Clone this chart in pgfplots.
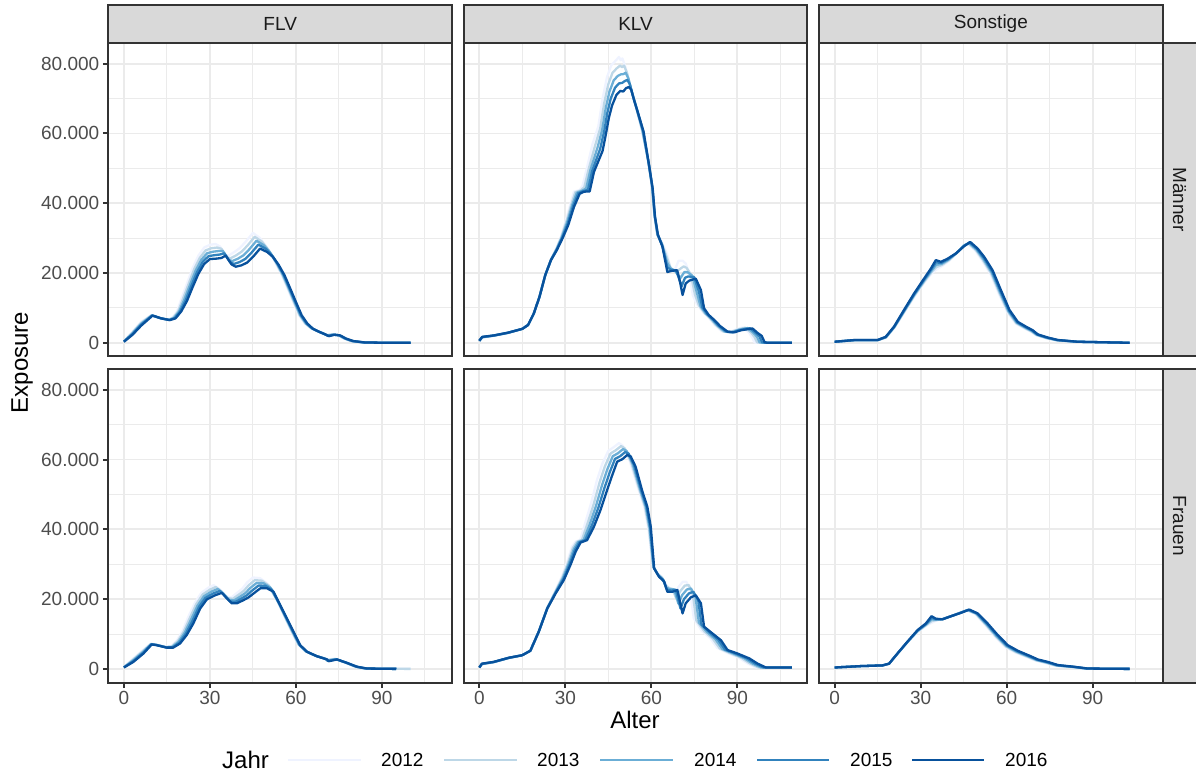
\documentclass[border=0pt]{standalone}
\usepackage{fontspec}
\setmainfont{Liberation Sans}
\usepackage{pgfplots}
\pgfplotsset{compat=1.18}
\definecolor{gg10}{HTML}{1A1A1A}
\definecolor{gg20}{HTML}{333333}
\definecolor{gg30}{HTML}{4D4D4D}
\definecolor{gg92}{HTML}{EBEBEB}
\definecolor{strip}{HTML}{D9D9D9}
\definecolor{c2012}{HTML}{EFF3FF}
\definecolor{c2013}{HTML}{BDD7E7}
\definecolor{c2014}{HTML}{6BAED6}
\definecolor{c2015}{HTML}{3182BD}
\definecolor{c2016}{HTML}{08519C}
\pgfplotsset{
  panel/.style={
    scale only axis, width=343.7pt, height=313.7pt,
    xmin=-5.45, xmax=114.45, ymin=-3.9, ymax=86,
    axis line style={draw=gg20, line width=2pt},
    xtick={0,30,60,90}, minor xtick={15,45,75,105},
    ytick={0,20,40,60,80}, minor ytick={10,30,50,70},
    xmajorgrids=true, ymajorgrids=true, xminorgrids=true, yminorgrids=true,
    major grid style={draw=gg92, line width=1.8pt},
    minor grid style={draw=gg92, line width=0.9pt},
    tick align=outside, tick pos=left,
    major tick length=5.5pt, minor tick length=0pt,
    tick style={draw=gg20, line width=2pt},
    tick label style={font=\fontsize{19}{22}\selectfont, text=gg30},
    xticklabels={0,30,60,90},
    yticklabels={0,20.000,40.000,60.000,80.000},
    no markers,
  },
  notx/.style={xticklabels={}, xtick style={draw=none}},
  noty/.style={yticklabels={}, ytick style={draw=none}},
  y12/.style={draw=c2012, line width=2.3pt, line join=round},
  y13/.style={draw=c2013, line width=2.3pt, line join=round},
  y14/.style={draw=c2014, line width=2.3pt, line join=round},
  y15/.style={draw=c2015, line width=2.3pt, line join=round},
  y16/.style={draw=c2016, line width=2.3pt, line join=round},
}
\begin{document}
\begin{tikzpicture}
\path[use as bounding box] (0,0) rectangle (1196pt,-773pt);

% ---------- FLV Maenner ----------
\begin{axis}[panel, notx, at={(108.3pt,-356.4pt)}, anchor=south west]
\addplot[y12] coordinates {(0,0.4)(3,3.2)(6,6.0)(9.5,7.9)(12.5,7.1)(15.5,6.6)(17,7.3)(18.5,9.0)(20,12.5)(22,17.0)(24,21.5)(26,25.0)(28,27.3)(30,28.1)(32,28.3)(33.5,27.6)(35.5,25.2)(36.5,25.0)(38.5,26.0)(40.5,27.2)(42.5,29.0)(45,31.5)(47.5,30.0)(50,27.2)(52.5,23.5)(55,19.5)(57,15.7)(59,11.8)(61,8.0)(63,5.6)(65,4.3)(67,3.5)(69,2.8)(70.5,2.3)(72.5,2.4)(74.5,2.2)(76.5,1.3)(79,0.5)(83,0.1)(90,0.02)(100,0)};
\addplot[y13] coordinates {(0,0.38)(3,2.98)(6,5.73)(9.63,7.88)(12.63,7.08)(15.63,6.58)(17.25,7.23)(18.88,9.0)(20.5,12.38)(22.5,16.75)(24.5,21.08)(26.5,24.4)(28.5,26.48)(30.5,27.1)(32.5,27.3)(34,26.95)(36,24.53)(37.13,24.2)(39.13,25.05)(41.13,26.15)(43.13,27.9)(45.63,30.38)(48.13,29)(50.5,26.55)(52.88,23.2)(55.25,19.48)(57.25,15.68)(59.25,11.78)(61.25,7.98)(63.25,5.58)(65.25,4.23)(67.25,3.43)(69.25,2.73)(70.75,2.2)(72.75,2.38)(74.75,2.18)(76.75,1.28)(79.25,0.5)(83.25,0.1)(90,0.02)(100,0)};
\addplot[y14] coordinates {(0,0.35)(3,2.75)(6,5.45)(9.75,7.85)(12.75,7.05)(15.75,6.55)(17.5,7.15)(19.25,9.0)(21,12.25)(23,16.5)(25,20.65)(27,23.8)(29,25.65)(31,26.1)(33,26.3)(34.5,26.3)(36.5,23.85)(37.75,23.4)(39.75,24.1)(41.75,25.1)(43.75,26.8)(46.25,29.25)(48.75,28)(51,25.9)(53.25,22.9)(55.5,19.45)(57.5,15.65)(59.5,11.75)(61.5,7.95)(63.5,5.55)(65.5,4.15)(67.5,3.35)(69.5,2.65)(71,2.1)(73,2.35)(75,2.15)(77,1.25)(79.5,0.5)(83.5,0.1)(90,0.02)(100,0)};
\addplot[y15] coordinates {(0,0.33)(3,2.53)(6,5.18)(9.88,7.83)(12.88,7.03)(15.88,6.53)(17.75,7.08)(19.63,9.0)(21.5,12.13)(23.5,16.25)(25.5,20.23)(27.5,23.2)(29.5,24.83)(31.5,25.1)(33.5,25.3)(35,25.65)(37,23.18)(38.38,22.6)(40.38,23.15)(42.38,24.05)(44.38,25.7)(46.88,28.13)(49.38,27)(51.5,25.25)(53.63,22.6)(55.75,19.43)(57.75,15.63)(59.75,11.73)(61.75,7.93)(63.75,5.53)(65.75,4.08)(67.75,3.28)(69.75,2.58)(71.25,2.0)(73.25,2.33)(75.25,2.13)(77.25,1.23)(79.75,0.5)(83.75,0.1)(90,0.02)(100,0)};
\addplot[y16] coordinates {(0,0.3)(3,2.3)(6,4.9)(10,7.8)(13,7.0)(16,6.5)(18,7.0)(20,9.0)(22,12.0)(24,16.0)(26,19.8)(28,22.6)(30,24.0)(32,24.1)(34,24.3)(35.5,25.0)(37.5,22.5)(39,21.8)(41,22.2)(43,23.0)(45,24.6)(47.5,27.0)(50,26.0)(52,24.6)(54,22.3)(56,19.4)(58,15.6)(60,11.7)(62,7.9)(64,5.5)(66,4.0)(68,3.2)(70,2.5)(71.5,1.9)(73.5,2.3)(75.5,2.1)(77.5,1.2)(80,0.5)(84,0.1)(90,0.02)(100,0)};
\end{axis}

% ---------- KLV Maenner ----------
\begin{axis}[panel, notx, noty, at={(463.7pt,-356.4pt)}, anchor=south west]
\addplot[y12] coordinates {(0,0.5)(1,1.5)(5,2.0)(10,2.8)(15,4.0)(17,5.1)(19,8.4)(21,13.2)(23,19.4)(25,23.9)(27,27.3)(28.5,30.5)(30.5,36.0)(32,40.5)(33,43.3)(35,43.8)(36,45.0)(37.5,50.0)(39.5,57.0)(41.5,62.0)(43,70.0)(44.5,76.0)(46,79.5)(47.5,80.8)(48.7,81.9)(49.3,81.0)(49.9,81.5)(51,79.0)(52.5,74.0)(54.5,68.0)(56.5,61.5)(58.5,54.0)(60,46.0)(61,37.0)(62,31.0)(63.5,29.0)(65.5,25.5)(66.5,22.0)(67.5,20.5)(68.5,21.5)(69.5,23.5)(71,23.5)(72,22.7)(73.2,20.0)(74.5,13.5)(76,11.0)(78,8.8)(80,7.2)(82,5.2)(84.5,3.3)(87,3.0)(89.5,3.8)(91.8,4.4)(94,3.0)(95.2,1.5)(96,0.1)(97,0)(109,0)};
\addplot[y13] coordinates {(0,0.53)(1,1.55)(5,2.03)(10,2.83)(15,4.0)(17,5.1)(19,8.4)(21,13.2)(23,19.4)(25,23.85)(27,27.1)(28.63,30.35)(30.63,35.43)(32.25,40.1)(33.5,43.15)(35.38,43.68)(36.63,44.6)(38.13,49.75)(40.38,56.5)(42.18,61.5)(43.55,68.63)(44.95,74)(46.45,77.38)(47.93,78.65)(49.08,79.43)(49.78,79)(50.48,79.45)(51.5,77.38)(52.88,72.88)(54.75,67.38)(56.7,61.25)(58.7,53.13)(60.13,45.5)(61.08,36.75)(62.08,31)(63.6,28.63)(65.53,24.2)(66.63,21.65)(67.88,20.58)(68.88,20.5)(69.85,21.05)(71.25,21.88)(72.3,21.48)(73.78,19.6)(75.2,13.9)(76.6,10.73)(78.5,8.6)(80.5,7.03)(82.5,5.1)(85.03,3.28)(87.5,3)(89.95,3.75)(92.68,4.33)(94.78,2.95)(96.03,1.63)(96.88,0.13)(97.88,0)(109,0)};
\addplot[y14] coordinates {(0,0.55)(1,1.6)(5,2.05)(10,2.85)(15,4.0)(17,5.1)(19,8.4)(21,13.2)(23,19.4)(25,23.8)(27,26.9)(28.75,30.2)(30.75,34.85)(32.5,39.7)(34,43.0)(35.75,43.55)(37.25,44.2)(38.75,49.5)(41.25,56.0)(42.85,61.0)(44.1,67.25)(45.4,72)(46.9,75.25)(48.35,76.5)(49.45,76.95)(50.25,77)(51.05,77.4)(52,75.75)(53.25,71.75)(55,66.75)(56.9,61.0)(58.9,52.25)(60.25,45)(61.15,36.5)(62.15,31)(63.7,28.25)(65.55,22.9)(66.75,21.3)(68.25,20.65)(69.25,19.5)(70.2,18.6)(71.5,20.25)(72.6,20.25)(74.35,19.2)(75.9,14.3)(77.2,10.45)(79,8.4)(81,6.85)(83,5.0)(85.55,3.25)(88,3)(90.4,3.7)(93.55,4.25)(95.55,2.9)(96.85,1.75)(97.75,0.15)(98.75,0)(109,0)};
\addplot[y15] coordinates {(0,0.58)(1,1.65)(5,2.08)(10,2.88)(15,4.0)(17,5.1)(19,8.4)(21,13.2)(23,19.4)(25,23.75)(27,26.7)(28.88,30.05)(30.88,34.28)(32.75,39.3)(34.5,42.85)(36.13,43.43)(37.88,43.8)(39.38,49.25)(42.13,55.5)(43.53,60.5)(44.65,65.88)(45.85,70)(47.35,73.13)(48.78,74.35)(49.83,74.48)(50.73,75)(51.63,75.35)(52.5,74.13)(53.63,70.63)(55.25,66.13)(57.1,60.75)(59.1,51.38)(60.38,44.5)(61.23,36.25)(62.23,31)(63.8,27.88)(65.58,21.6)(66.88,20.95)(68.63,20.73)(69.63,18.5)(70.55,16.15)(71.75,18.63)(72.9,19.03)(74.93,18.8)(76.6,14.7)(77.8,10.18)(79.5,8.2)(81.5,6.68)(83.5,4.9)(86.08,3.23)(88.5,3)(90.85,3.65)(94.43,4.18)(96.33,2.85)(97.68,1.88)(98.63,0.18)(99.63,0)(109,0)};
\addplot[y16] coordinates {(0,0.6)(1,1.7)(5,2.1)(10,2.9)(15,4.0)(17,5.1)(19,8.4)(21,13.2)(23,19.4)(25,23.7)(27,26.5)(29,29.9)(31,33.7)(33,38.9)(35,42.7)(36.5,43.3)(38.5,43.4)(40,49.0)(43,55.0)(44.2,60.0)(45.2,64.5)(46.3,68.0)(47.8,71.0)(49.2,72.2)(50.2,72.0)(51.2,73.0)(52.2,73.3)(53,72.5)(54,69.5)(55.5,65.5)(57.3,60.5)(59.3,50.5)(60.5,44.0)(61.3,36.0)(62.3,31.0)(63.9,27.5)(65.6,20.3)(67,20.6)(69,20.8)(70,17.5)(70.9,13.7)(72,17.0)(73.2,17.8)(75.5,18.4)(77.3,15.1)(78.4,9.9)(80,8.0)(82,6.5)(84,4.8)(86.6,3.2)(89,3.0)(91.3,3.6)(95.3,4.1)(97.1,2.8)(98.5,2.0)(99.5,0.2)(100.5,0)(109,0)};
\end{axis}

% ---------- Sonstige Maenner ----------
\begin{axis}[panel, notx, noty, at={(819pt,-356.4pt)}, anchor=south west]
\addplot[y12] coordinates {(0,0.3)(7,0.7)(15,0.7)(18,1.5)(21,4.5)(24.5,9.0)(28,13.5)(31.5,17.5)(34,20.0)(35.5,21.0)(37.5,22.0)(40,23.5)(43,26.0)(45,28.0)(46.5,28.3)(49,26.5)(51.5,23.5)(54.5,19.5)(57.3,14.0)(60.3,8.7)(63.2,5.5)(66,4.2)(68.4,3.2)(70.2,2.2)(73.7,1.3)(77.2,0.7)(84,0.3)(102.9,0)};
\addplot[y13] coordinates {(0,0.3)(7,0.73)(15,0.73)(17.95,1.55)(20.93,4.53)(24.43,9.1)(27.93,13.65)(31.43,17.73)(33.9,20.33)(35.45,21.68)(37.4,22.3)(39.85,23.65)(42.83,25.9)(45.05,27.93)(46.7,28.45)(49.23,26.63)(51.68,23.78)(54.65,19.83)(57.48,14.28)(60.48,8.88)(63.38,5.63)(66.2,4.3)(68.58,3.3)(70.38,2.25)(73.88,1.35)(77.38,0.73)(84.2,0.3)(102.9,0)};
\addplot[y14] coordinates {(0,0.3)(7,0.75)(15,0.75)(17.9,1.6)(20.85,4.55)(24.35,9.2)(27.85,13.8)(31.35,17.95)(33.8,20.65)(35.4,22.35)(37.3,22.6)(39.7,23.8)(42.65,25.8)(45.1,27.85)(46.9,28.6)(49.45,26.75)(51.85,24.05)(54.8,20.15)(57.65,14.55)(60.65,9.05)(63.55,5.75)(66.4,4.4)(68.75,3.4)(70.55,2.3)(74.05,1.4)(77.55,0.75)(84.4,0.3)(102.9,0)};
\addplot[y15] coordinates {(0,0.3)(7,0.78)(15,0.78)(17.85,1.65)(20.78,4.58)(24.28,9.3)(27.78,13.95)(31.28,18.18)(33.7,20.98)(35.35,23.03)(37.2,22.9)(39.55,23.95)(42.48,25.7)(45.15,27.78)(47.1,28.75)(49.68,26.88)(52.03,24.33)(54.95,20.48)(57.83,14.83)(60.83,9.23)(63.73,5.88)(66.6,4.5)(68.93,3.5)(70.73,2.35)(74.23,1.45)(77.73,0.78)(84.6,0.3)(102.9,0)};
\addplot[y16] coordinates {(0,0.3)(7,0.8)(15,0.8)(17.8,1.7)(20.7,4.6)(24.2,9.4)(27.7,14.1)(31.2,18.4)(33.6,21.3)(35.3,23.7)(37.1,23.2)(39.4,24.1)(42.3,25.6)(45.2,27.7)(47.3,28.9)(49.9,27.0)(52.2,24.6)(55.1,20.8)(58,15.1)(61,9.4)(63.9,6.0)(66.8,4.6)(69.1,3.6)(70.9,2.4)(74.4,1.5)(77.9,0.8)(84.8,0.3)(102.9,0)};
\end{axis}

% ---------- FLV Frauen ----------
\begin{axis}[panel, at={(108.3pt,-682.5pt)}, anchor=south west]
\addplot[y12] coordinates {(0,0.5)(3,2.8)(6.5,5.3)(9.3,7.2)(11,7.0)(14.5,6.3)(16.5,6.5)(18.5,8.2)(20.5,11.0)(22.5,15.0)(24.8,19.0)(27,21.8)(29.5,23.3)(31.3,24.0)(33.5,22.8)(35.7,20.8)(37.5,20.5)(39.5,21.8)(41.3,23.0)(43,24.8)(45,26.2)(47.5,26.0)(50,24.5)(53.5,19.5)(56,15.0)(58.3,11.0)(60.6,7.2)(63,5.2)(66.4,3.9)(69.9,3.0)(70.4,2.6)(73.4,2.9)(76.9,1.9)(80.4,0.7)(84,0.1)(100,0)};
\addplot[y13] coordinates {(0,0.48)(3.08,2.6)(6.58,5.08)(9.4,7.15)(11.1,6.95)(14.6,6.25)(16.68,6.4)(18.78,7.98)(20.85,10.68)(22.93,14.5)(25.25,18.58)(27.48,21.33)(30.08,22.75)(32.03,23.45)(34.1,22.15)(36.18,20.3)(37.98,20.08)(40.05,21.28)(41.85,22.38)(43.55,24.0)(45.65,25.43)(48.1,25.28)(50.55,23.9)(53.75,19.2)(56.23,14.85)(58.53,10.9)(60.83,7.1)(63.23,5.13)(66.65,3.83)(70.15,2.93)(70.65,2.5)(73.65,2.85)(77.15,1.85)(80.65,0.68)(84.2,0.1)(100,0)};
\addplot[y14] coordinates {(0,0.45)(3.15,2.4)(6.65,4.85)(9.5,7.1)(11.2,6.9)(14.7,6.2)(16.85,6.3)(19.05,7.75)(21.2,10.35)(23.35,14.0)(25.7,18.15)(27.95,20.85)(30.65,22.2)(32.75,22.9)(34.7,21.5)(36.65,19.8)(38.45,19.65)(40.6,20.75)(42.4,21.75)(44.1,23.2)(46.3,24.65)(48.7,24.55)(51.1,23.3)(54,18.9)(56.45,14.7)(58.75,10.8)(61.05,7.0)(63.45,5.05)(66.9,3.75)(70.4,2.85)(70.9,2.4)(73.9,2.8)(77.4,1.8)(80.9,0.65)(84.4,0.1)(95,0)};
\addplot[y15] coordinates {(0,0.43)(3.23,2.2)(6.73,4.63)(9.6,7.05)(11.3,6.85)(14.8,6.15)(17.03,6.2)(19.33,7.53)(21.55,10.03)(23.78,13.5)(26.15,17.73)(28.43,20.38)(31.23,21.65)(33.48,22.35)(35.3,20.85)(37.13,19.3)(38.93,19.23)(41.15,20.23)(42.95,21.13)(44.65,22.4)(46.95,23.88)(49.3,23.83)(51.65,22.7)(54.25,18.6)(56.68,14.55)(58.98,10.7)(61.28,6.9)(63.68,4.98)(67.15,3.68)(70.65,2.78)(71.15,2.3)(74.15,2.75)(77.65,1.75)(81.15,0.63)(84.6,0.1)(95,0)};
\addplot[y16] coordinates {(0,0.4)(3.3,2.0)(6.8,4.4)(9.7,7.0)(11.4,6.8)(14.9,6.1)(17.2,6.1)(19.6,7.3)(21.9,9.7)(24.2,13.0)(26.6,17.3)(28.9,19.9)(31.8,21.1)(34.2,21.8)(35.9,20.2)(37.6,18.8)(39.4,18.8)(41.7,19.7)(43.5,20.5)(45.2,21.6)(47.6,23.1)(49.9,23.1)(52.2,22.1)(54.5,18.3)(56.9,14.4)(59.2,10.6)(61.5,6.8)(63.9,4.9)(67.4,3.6)(70.9,2.7)(71.4,2.2)(74.4,2.7)(77.9,1.7)(81.4,0.6)(84.8,0.1)(95,0)};
\end{axis}

% ---------- KLV Frauen ----------
\begin{axis}[panel, noty, at={(463.7pt,-682.5pt)}, anchor=south west]
\addplot[y12] coordinates {(0,0.4)(0.9,1.3)(5,1.9)(10.3,3.1)(14.9,3.9)(17.8,5.2)(20.7,10.6)(23.7,17.5)(26.3,22.0)(28.8,26.5)(30.8,31.0)(32.3,35.0)(33.6,36.5)(35.2,37.0)(37,42.0)(39,47.5)(41,54.0)(43,59.0)(45,62.5)(46.8,63.5)(48.7,64.7)(50,64.0)(52.5,59.5)(55.5,51.5)(57.5,46.5)(59,40.0)(60.5,29.5)(62,27.5)(63.5,26.5)(64.8,24.5)(65.8,23.5)(66.8,23.0)(68,21.5)(69.5,23.5)(71,25.0)(72.2,25.0)(73.5,22.5)(74.8,14.5)(77.5,11.0)(80.5,8.8)(83,6.0)(86.5,4.6)(90.5,3.2)(93.5,1.6)(96.5,0.4)(109,0.4)};
\addplot[y13] coordinates {(0,0.4)(0.9,1.35)(5,1.93)(10.3,3.13)(14.9,3.9)(17.8,5.2)(20.7,10.6)(23.7,17.45)(26.38,21.9)(28.98,26.25)(31.05,30.7)(32.63,34.65)(34.03,36.43)(35.8,36.98)(37.75,41.7)(39.83,47.03)(41.9,53.33)(43.85,58.15)(45.78,61.73)(47.58,62.65)(49.43,63.85)(50.7,63.23)(53,59.13)(55.85,51.33)(57.78,46.5)(59.2,40.2)(60.63,29.33)(62.18,27.23)(63.75,26.13)(65,23.9)(66.2,23.15)(67.38,22.9)(68.73,20.1)(70.13,22.33)(71.7,23.88)(73.03,24.03)(74.45,21.58)(75.7,13.9)(78.48,10.78)(81.45,8.65)(83.9,5.85)(87.4,4.55)(91.43,3.15)(94.4,1.58)(97.38,0.4)(109,0.4)};
\addplot[y14] coordinates {(0,0.4)(0.9,1.4)(5,1.95)(10.3,3.15)(14.9,3.9)(17.8,5.2)(20.7,10.6)(23.7,17.4)(26.45,21.8)(29.15,26.0)(31.3,30.4)(32.95,34.3)(34.45,36.35)(36.4,36.95)(38.5,41.4)(40.65,46.55)(42.8,52.65)(44.7,57.3)(46.55,60.95)(48.35,61.8)(50.15,63.0)(51.4,62.45)(53.5,58.75)(56.2,51.15)(58.05,46.5)(59.4,40.4)(60.75,29.15)(62.35,26.95)(64,25.75)(65.2,23.3)(66.6,22.8)(67.95,22.8)(69.45,18.7)(70.75,21.15)(72.4,22.75)(73.85,23.05)(75.4,20.65)(76.6,13.3)(79.45,10.55)(82.4,8.5)(84.8,5.7)(88.3,4.5)(92.35,3.1)(95.3,1.55)(98.25,0.4)(109,0.4)};
\addplot[y15] coordinates {(0,0.4)(0.9,1.45)(5,1.98)(10.3,3.18)(14.9,3.9)(17.8,5.2)(20.7,10.6)(23.7,17.35)(26.53,21.7)(29.33,25.75)(31.55,30.1)(33.28,33.95)(34.88,36.28)(37,36.93)(39.25,41.1)(41.48,46.08)(43.7,51.98)(45.55,56.45)(47.33,60.18)(49.13,60.95)(50.88,62.15)(52.1,61.68)(54,58.38)(56.55,50.98)(58.33,46.5)(59.6,40.6)(60.88,28.98)(62.53,26.68)(64.25,25.38)(65.4,22.7)(67,22.45)(68.53,22.7)(70.18,17.3)(71.38,19.98)(73.1,21.63)(74.68,22.08)(76.35,19.73)(77.5,12.7)(80.43,10.33)(83.35,8.35)(85.7,5.55)(89.2,4.45)(93.28,3.05)(96.2,1.53)(99.13,0.4)(109,0.4)};
\addplot[y16] coordinates {(0,0.4)(0.9,1.5)(5,2.0)(10.3,3.2)(14.9,3.9)(17.8,5.2)(20.7,10.6)(23.7,17.3)(26.6,21.6)(29.5,25.5)(31.8,29.8)(33.6,33.6)(35.3,36.2)(37.6,36.9)(40,40.8)(42.3,45.6)(44.6,51.3)(46.4,55.6)(48.1,59.4)(49.9,60.1)(51.6,61.3)(52.8,60.9)(54.5,58.0)(56.9,50.8)(58.6,46.5)(59.8,40.8)(61,28.8)(62.7,26.4)(64.5,25.0)(65.6,22.1)(67.4,22.1)(69.1,22.6)(70.9,15.9)(72,18.8)(73.8,20.5)(75.5,21.1)(77.3,18.8)(78.4,12.1)(81.4,10.1)(84.3,8.2)(86.6,5.4)(90.1,4.4)(94.2,3.0)(97.1,1.5)(100,0.4)(109,0.4)};
\end{axis}

% ---------- Sonstige Frauen ----------
\begin{axis}[panel, noty, at={(819pt,-682.5pt)}, anchor=south west]
\addplot[y12] coordinates {(0,0.4)(9.1,0.8)(16.7,1.0)(19,1.5)(21.9,4.3)(25.4,7.6)(28.9,10.6)(31.8,12.3)(33.8,13.2)(35.3,13.8)(37.6,14.3)(40.3,15.0)(43,15.9)(46,16.8)(49,15.8)(52.5,12.6)(56,9.2)(59.5,6.3)(63,4.7)(67.6,3.2)(70,2.4)(73.5,1.7)(77,0.9)(82.8,0.5)(87.4,0.1)(102.9,0)};
\addplot[y13] coordinates {(0,0.4)(9.1,0.8)(16.7,1.0)(19,1.5)(21.9,4.33)(25.4,7.65)(28.9,10.73)(31.8,12.48)(33.8,13.68)(35.3,13.95)(37.6,14.28)(40.38,15.03)(43.13,15.9)(46.25,16.85)(49.23,15.83)(52.73,12.7)(56.23,9.33)(59.73,6.43)(63.23,4.83)(67.83,3.3)(70.23,2.48)(73.73,1.78)(77.23,0.95)(83.03,0.53)(87.63,0.1)(102.9,0)};
\addplot[y14] coordinates {(0,0.4)(9.1,0.8)(16.7,1.0)(19,1.5)(21.9,4.35)(25.4,7.7)(28.9,10.85)(31.8,12.65)(33.8,14.15)(35.3,14.1)(37.6,14.25)(40.45,15.05)(43.25,15.9)(46.5,16.9)(49.45,15.85)(52.95,12.8)(56.45,9.45)(59.95,6.55)(63.45,4.95)(68.05,3.4)(70.45,2.55)(73.95,1.85)(77.45,1.0)(83.25,0.55)(87.85,0.1)(102.9,0)};
\addplot[y15] coordinates {(0,0.4)(9.1,0.8)(16.7,1.0)(19,1.5)(21.9,4.38)(25.4,7.75)(28.9,10.98)(31.8,12.83)(33.8,14.63)(35.3,14.25)(37.6,14.23)(40.53,15.08)(43.38,15.9)(46.75,16.95)(49.68,15.88)(53.18,12.9)(56.68,9.58)(60.18,6.68)(63.68,5.08)(68.28,3.5)(70.68,2.63)(74.18,1.93)(77.68,1.05)(83.48,0.58)(88.08,0.1)(102.9,0)};
\addplot[y16] coordinates {(0,0.4)(9.1,0.8)(16.7,1.0)(19,1.5)(21.9,4.4)(25.4,7.8)(28.9,11.1)(31.8,13.0)(33.8,15.1)(35.3,14.4)(37.6,14.2)(40.6,15.1)(43.5,15.9)(47,17.0)(49.9,15.9)(53.4,13.0)(56.9,9.7)(60.4,6.8)(63.9,5.2)(68.5,3.6)(70.9,2.7)(74.4,2.0)(77.9,1.1)(83.7,0.6)(88.3,0.1)(102.9,0)};
\end{axis}

% ---------- strips ----------
\tikzset{stripbox/.style={fill=strip, draw=gg20, line width=2pt}}
\draw[stripbox] (108.3pt,-5.3pt) rectangle (452pt,-42.7pt);
\draw[stripbox] (463.7pt,-5.3pt) rectangle (807.4pt,-42.7pt);
\draw[stripbox] (819pt,-5.3pt) rectangle (1162.7pt,-42.7pt);
\draw[stripbox] (1162.7pt,-42.7pt) rectangle (1200pt,-356.4pt);
\draw[stripbox] (1162.7pt,-368.8pt) rectangle (1200pt,-682.5pt);
\tikzset{striptext/.style={font=\fontsize{19}{22}\selectfont, text=gg10, inner sep=0pt}}
\node[striptext] at (280.2pt,-24pt) {FLV};
\node[striptext] at (635.5pt,-24pt) {KLV};
\node[striptext] at (990.9pt,-24pt) {Sonstige};
\node[striptext, rotate=-90] at (1179.5pt,-199.5pt) {Männer};
\node[striptext, rotate=-90] at (1179.5pt,-525.6pt) {Frauen};

% ---------- axis titles ----------
\node[font=\fontsize{24}{28}\selectfont, inner sep=0pt, rotate=90] at (22pt,-362.6pt) {Exposure};
\node[font=\fontsize{24}{28}\selectfont, inner sep=0pt] at (635pt,-720pt) {Alter};

% ---------- legend ----------
\node[font=\fontsize{24}{28}\selectfont, inner sep=0pt, anchor=west] at (222pt,-760pt) {Jahr};
\draw[c2012, line width=2.3pt] (288pt,-760pt) -- (361pt,-760pt);
\draw[c2013, line width=2.3pt] (444pt,-760pt) -- (517pt,-760pt);
\draw[c2014, line width=2.3pt] (600pt,-760pt) -- (673pt,-760pt);
\draw[c2015, line width=2.3pt] (757pt,-760pt) -- (829pt,-760pt);
\draw[c2016, line width=2.3pt] (912pt,-760pt) -- (984pt,-760pt);
\tikzset{legtext/.style={font=\fontsize{19}{22}\selectfont, inner sep=0pt, anchor=west}}
\node[legtext] at (381pt,-760pt) {2012};
\node[legtext] at (537pt,-760pt) {2013};
\node[legtext] at (694pt,-760pt) {2014};
\node[legtext] at (850pt,-760pt) {2015};
\node[legtext] at (1005pt,-760pt) {2016};
\end{tikzpicture}
\end{document}
